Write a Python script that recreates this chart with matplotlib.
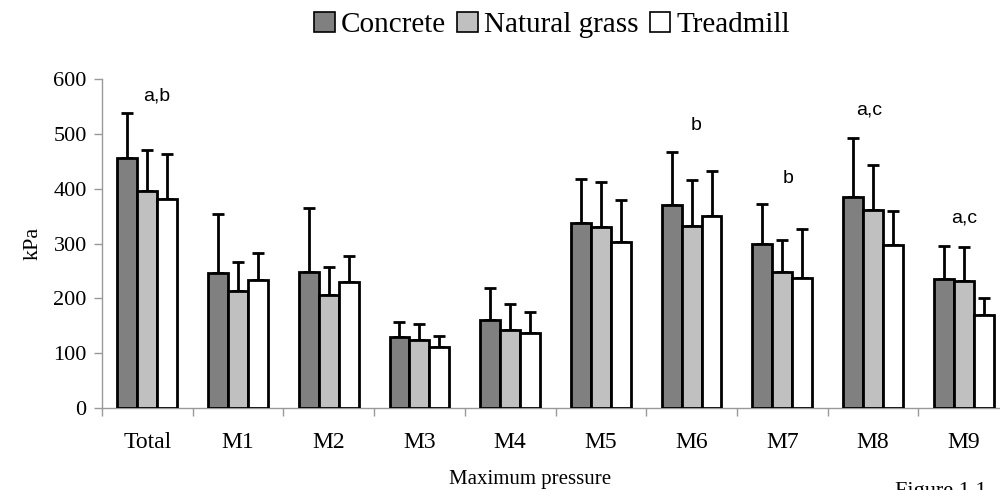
import numpy as np
import matplotlib.pyplot as plt

plt.switch_backend('Agg')

categories = ['Total', 'M1', 'M2', 'M3', 'M4', 'M5', 'M6', 'M7', 'M8', 'M9']
series = ['Concrete', 'Natural grass', 'Treadmill']
concrete = [455, 247, 249, 129, 160, 337, 370, 300, 384, 235]
concrete_sd = [82, 106, 115, 28, 59, 80, 96, 72, 108, 61]
grass = [396, 214, 206, 125, 143, 331, 332, 248, 362, 232]
grass_sd = [75, 52, 51, 29, 46, 82, 83, 58, 82, 62]
treadmill = [381, 233, 230, 112, 137, 302, 351, 237, 297, 170]
treadmill_sd = [83, 50, 48, 19, 39, 78, 82, 90, 63, 31]
notes = {0: 'a,b', 6: 'b', 7: 'b', 8: 'a,c', 9: 'a,c'}
note_y = {0: 569, 6: 515, 7: 418, 8: 543, 9: 346}
note_dx = {0: 0.1, 6: 0.05, 7: 0.06, 8: -0.04, 9: 0.0}

colors = ['#808080', '#c0c0c0', '#ffffff']
serif = ['Liberation Serif', 'DejaVu Serif']

fig = plt.figure(figsize=(10, 4.9), dpi=100)
# the reference is cropped on the right, so the axes run past the edge
ax = fig.add_axes([0.102, 0.167, 0.907, 0.672])

x = np.arange(len(categories))
w = 0.22
vals = [concrete, grass, treadmill]
sds = [concrete_sd, grass_sd, treadmill_sd]
for i, (v, s) in enumerate(zip(vals, sds)):
    pos = x + (i - 1) * w
    ax.bar(pos, v, w, color=colors[i], edgecolor='black', linewidth=2,
           label=series[i], zorder=3)
    ax.errorbar(pos, v, yerr=[np.zeros(len(s)), s], fmt='none', ecolor='black',
                elinewidth=2, capsize=4, capthick=2, zorder=2)

for k, t in notes.items():
    ax.text(x[k] + note_dx[k], note_y[k], t, ha='center', va='center',
            fontsize=14, family=['Liberation Sans', 'DejaVu Sans'])

ax.set_xlim(-0.5, len(categories) - 0.5)
ax.set_ylim(0, 600)
ax.set_yticks(range(0, 601, 100))
ax.set_xticks(x)
ax.set_xticks(np.arange(-0.5, len(categories), 1), minor=True)
ax.set_xticklabels(categories, family=serif, fontsize=17)
ax.tick_params(axis='x', which='major', length=0, pad=17)
ax.tick_params(axis='x', which='minor', length=6, color='#999999', width=1)
ax.tick_params(axis='y', length=6, color='#999999', width=1, labelsize=16,
               pad=5)
for lab in ax.get_yticklabels():
    lab.set_family(serif)
for sp in ['top', 'right']:
    ax.spines[sp].set_visible(False)
for sp in ['left', 'bottom']:
    ax.spines[sp].set_color('#999999')
    ax.spines[sp].set_linewidth(1)

ax.set_ylabel('kPa', family=serif, fontsize=16, labelpad=8)
fig.text(0.53, 0.022, 'Maximum pressure', ha='center', va='center',
         family=serif, fontsize=15)
fig.text(0.895, -0.004, 'Figure 1.1', ha='left', va='center',
         family=serif, fontsize=16)

leg = fig.legend(loc='upper center', bbox_to_anchor=(0.552, 1.03), ncol=3,
                 frameon=False, prop={'family': serif, 'size': 21},
                 handlelength=0.7, handleheight=0.7, handletextpad=0.2,
                 columnspacing=0.4)
for h in leg.legend_handles:
    h.set_linewidth(1.2)

fig.savefig('out.png', dpi=100)
plt.close(fig)
